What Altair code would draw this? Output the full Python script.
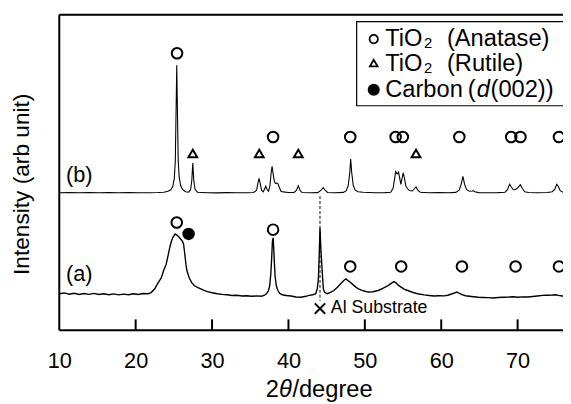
import altair as alt
import pandas as pd

# ---------------- data (2theta in degrees, intensity in arbitrary units) ----------------
b_two_theta = [10.00, 11.32, 12.61, 13.90, 15.19, 16.48, 17.77, 19.06, 20.35, 21.64, 22.93, 23.70,
               24.22, 24.61, 24.86, 25.06, 25.19, 25.29, 25.38, 25.47, 25.57, 25.70, 25.90, 26.15,
               26.54, 26.93, 27.19, 27.35, 27.48, 27.61, 27.77, 28.09, 29.38, 30.67, 31.96, 33.25,
               34.54, 35.45, 35.83, 36.03, 36.15, 36.28, 36.48, 36.70, 36.87, 37.03, 37.19, 37.38,
               37.57, 37.74, 37.86, 37.97, 38.13, 38.28, 38.48, 38.63, 38.80, 39.02, 39.32, 39.96,
               40.74, 41.06, 41.29, 41.51, 41.77, 42.93, 43.83, 44.28, 44.54, 44.80, 45.12, 46.15,
               47.19, 47.57, 47.83, 48.03, 48.15, 48.28, 48.48, 48.74, 49.12, 49.77, 51.32, 52.61,
               53.38, 53.70, 53.90, 54.03, 54.22, 54.41, 54.57, 54.71, 54.87, 55.03, 55.19, 55.38,
               55.61, 55.83, 56.22, 56.48, 56.70, 56.93, 57.25, 58.41, 59.70, 60.99, 61.90, 62.35,
               62.61, 62.84, 63.06, 63.32, 63.70, 64.03, 64.22, 64.41, 64.87, 66.15, 67.45, 68.35,
               68.67, 68.95, 69.19, 69.45, 69.64, 69.96, 70.35, 70.61, 70.93, 71.45, 72.61, 73.90,
               74.54, 74.87, 75.12, 75.32, 75.57, 75.96]
b_intensity = [139.5, 139.7, 139.4, 139.6, 139.4, 139.6, 139.4, 139.6, 139.5, 139.5, 139.7, 140.0,
               141.0, 142.5, 146.0, 154.0, 172.0, 222.0, 268.7, 222.0, 172.0, 155.0, 146.5, 142.5,
               140.5, 140.0, 142.5, 152.0, 169.5, 152.0, 143.0, 140.0, 139.5, 139.3, 139.6, 139.4,
               139.5, 139.7, 142.0, 150.0, 154.0, 150.0, 142.0, 140.3, 143.0, 146.0, 143.0, 141.0,
               146.0, 160.0, 166.3, 160.0, 152.0, 149.0, 149.3, 148.5, 145.0, 141.0, 140.3, 139.7,
               139.7, 142.0, 146.5, 142.0, 139.7, 139.4, 139.6, 142.0, 144.7, 142.0, 139.7, 139.5,
               139.8, 141.5, 147.0, 160.0, 173.7, 160.0, 147.0, 142.0, 140.5, 140.0, 139.5, 139.6,
               140.0, 144.0, 154.0, 161.0, 158.5, 160.5, 154.0, 148.0, 154.0, 159.5, 154.0, 146.0,
               143.5, 141.7, 141.2, 143.5, 145.3, 142.0, 140.0, 139.5, 139.6, 139.5, 139.8, 142.0,
               148.0, 156.0, 148.0, 142.5, 141.0, 141.2, 141.5, 140.5, 139.6, 139.5, 139.6, 140.0,
               142.5, 148.0, 145.0, 142.5, 142.5, 144.0, 147.5, 144.0, 140.5, 139.7, 139.5, 139.7,
               140.5, 143.0, 148.0, 146.0, 141.5, 139.8]

a_two_theta = [10.00, 10.67, 11.32, 11.96, 12.61, 13.25, 13.90, 14.54, 15.19, 15.83, 16.48, 17.12,
               17.77, 18.41, 19.06, 19.70, 20.35, 20.99, 21.64, 22.03, 22.50, 22.93, 23.35, 23.64,
               24.00, 24.22, 24.44, 24.67, 24.86, 25.16, 25.38, 25.60, 25.77, 25.94, 26.15, 26.28,
               26.45, 26.58, 26.71, 27.02, 27.32, 27.66, 28.09, 28.52, 28.95, 29.38, 30.03, 30.67,
               31.32, 31.96, 32.61, 33.25, 33.90, 34.54, 35.19, 35.83, 36.48, 36.87, 37.12, 37.38,
               37.55, 37.70, 37.81, 37.90, 37.99, 38.06, 38.15, 38.25, 38.41, 38.61, 38.84, 39.19,
               39.70, 40.35, 40.99, 41.64, 42.28, 42.71, 43.19, 43.57, 43.77, 43.92, 44.03, 44.13,
               44.25, 44.35, 44.48, 44.57, 44.74, 45.08, 45.51, 45.94, 46.41, 47.02, 47.32, 47.54,
               47.77, 48.09, 48.48, 48.87, 49.16, 49.64, 50.03, 50.45, 51.06, 51.74, 52.35, 53.03,
               53.45, 53.81, 54.09, 54.32, 54.80, 55.19, 55.61, 56.22, 56.90, 57.77, 58.41, 59.06,
               59.70, 60.35, 60.87, 61.25, 61.64, 62.06, 62.35, 62.71, 63.19, 63.70, 64.22, 64.87,
               65.51, 66.15, 66.80, 67.45, 68.09, 68.95, 69.38, 70.03, 70.67, 71.32, 71.96, 72.61,
               73.25, 73.90, 74.54, 74.97, 75.32, 75.83, 75.96]
a_intensity = [37.0, 37.8, 36.5, 37.5, 36.2, 37.2, 36.4, 37.4, 36.2, 37.0, 36.0, 36.8,
               35.8, 36.6, 36.0, 37.0, 36.2, 37.2, 37.0, 38.2, 42.0, 48.0, 53.0, 60.0,
               67.0, 75.0, 83.0, 90.0, 94.0, 97.7, 96.5, 95.0, 93.5, 92.0, 90.0, 87.0,
               76.0, 67.0, 60.3, 53.0, 48.5, 45.3, 43.5, 42.0, 40.3, 39.2, 38.0, 37.0,
               36.4, 36.0, 35.2, 35.5, 34.7, 35.0, 34.4, 34.8, 34.5, 35.5, 37.0, 40.0,
               45.3, 58.0, 74.0, 90.0, 93.7, 85.3, 70.0, 55.0, 45.3, 40.5, 37.5, 36.0,
               35.2, 34.7, 33.7, 33.4, 34.4, 35.3, 36.0, 37.0, 42.0, 52.0, 77.0, 103.7,
               82.0, 68.7, 52.0, 42.0, 38.5, 37.0, 38.5, 40.3, 43.5, 48.7, 51.0, 52.0,
               50.5, 48.7, 46.0, 43.5, 42.0, 40.5, 39.5, 38.7, 39.0, 40.3, 42.5, 45.3,
               47.5, 49.3, 48.0, 46.0, 43.5, 41.5, 40.3, 38.5, 37.0, 35.8, 35.2, 34.7,
               35.0, 34.8, 35.5, 36.5, 37.5, 38.7, 37.5, 36.0, 35.0, 34.5, 34.0, 33.4,
               33.2, 33.0, 32.7, 33.2, 33.4, 33.7, 34.0, 33.5, 33.8, 33.7, 34.2, 34.7,
               35.3, 35.5, 35.7, 36.0, 35.4, 34.7, 34.7]

anatase_b_x = [25.42, 37.99, 48.09, 54.03, 54.97, 62.37, 69.16, 70.37, 75.41]
anatase_b_y = [281.0, 196.0, 196.0, 196.0, 196.0, 196.0, 196.0, 196.0, 196.0]
rutile_b_x = [27.48, 36.18, 41.29, 56.70]
rutile_b_y = [179.3, 179.3, 179.3, 179.3]
anatase_a_x = [25.38, 37.99, 48.09, 54.76, 62.71, 69.73, 75.41]
anatase_a_y = [109.3, 102.0, 64.7, 64.7, 64.7, 64.7, 64.7]
carbon_a_x = [26.93]
carbon_a_y = [97.7]
al_x = [44.13]
al_marker_y = [22.0]
al_line_top = [136.0]
al_line_bottom = [30.0]
al_label = ["Al Substrate"]
curve_labels = ["(b)", "(a)"]
curve_label_x = [10.89, 10.89]
curve_label_y = [150.3, 50.0]

tick_labels = [10, 20, 30, 40, 50, 60, 70]
inner_ticks = [20, 30, 40, 50, 60, 70]

legend_names = ["TiO", "2", "(Anatase)", "TiO", "2", "(Rutile)", "Carbon", "(", "d", "(002))"]

# ---------------- chart ----------------
W, H = 511, 320
FONT = "Liberation Sans"
xs = alt.Scale(domain=[10, 75.94], nice=False, zero=False)
ys = alt.Scale(domain=[0, 320], nice=False, zero=False)
x_axis = alt.Axis(values=tick_labels, ticks=False, tickSize=0, domain=False, grid=False,
                  labelFontSize=22, labelFont=FONT, labelColor="black", labelPadding=38,
                  labelBaseline="alphabetic", title=None, labelFlush=False)


def X(field):
    return alt.X(field, type="quantitative", scale=xs, axis=x_axis)


def Y(field):
    return alt.Y(field, type="quantitative", scale=ys, axis=None)


df_b = pd.DataFrame({"tt": b_two_theta, "I": b_intensity})
df_a = pd.DataFrame({"tt": a_two_theta, "I": a_intensity})

curve_b = alt.Chart(df_b).mark_line(color="black", strokeWidth=1.1, clip=True).encode(x=X("tt"), y=Y("I"))
curve_a = alt.Chart(df_a).mark_line(color="black", strokeWidth=1.4, clip=True).encode(x=X("tt"), y=Y("I"))

circ_b = alt.Chart(pd.DataFrame({"tt": anatase_b_x, "I": anatase_b_y})).mark_point(
    shape="circle", filled=False, color="black", strokeWidth=2, size=115, opacity=1, clip=True
).encode(x=X("tt"), y=Y("I"))
circ_a = alt.Chart(pd.DataFrame({"tt": anatase_a_x, "I": anatase_a_y})).mark_point(
    shape="circle", filled=False, color="black", strokeWidth=2, size=115, opacity=1, clip=True
).encode(x=X("tt"), y=Y("I"))
tri_b = alt.Chart(pd.DataFrame({"tt": rutile_b_x, "I": rutile_b_y})).mark_point(
    shape="triangle-up", filled=False, color="black", strokeWidth=2, size=80, opacity=1
).encode(x=X("tt"), y=Y("I"))
carb = alt.Chart(pd.DataFrame({"tt": carbon_a_x, "I": carbon_a_y})).mark_point(
    shape="circle", filled=True, color="black", size=160, opacity=1
).encode(x=X("tt"), y=Y("I"))

al_df = pd.DataFrame({"tt": al_x, "I": al_marker_y, "top": al_line_top, "bot": al_line_bottom,
                      "lab": al_label})
al_line = alt.Chart(al_df).mark_rule(color="black", strokeWidth=1, strokeDash=[3, 2]).encode(
    x=X("tt"), y=Y("top"), y2="bot")
al_mark = alt.Chart(al_df).mark_point(
    shape="M-1,-1L1,1M-1,1L1,-1", filled=False, color="black", strokeWidth=2, size=110, opacity=1
).encode(x=X("tt"), y=Y("I"))
al_text = alt.Chart(al_df).mark_text(align="left", baseline="middle", dx=11, fontSize=18, font=FONT,
                                     color="black").encode(x=X("tt"), y=Y("I"), text="lab")

lab_df = pd.DataFrame({"tt": curve_label_x, "I": curve_label_y, "lab": curve_labels})
curve_text = alt.Chart(lab_df).mark_text(align="left", baseline="alphabetic", fontSize=22, font=FONT,
                                         color="black").encode(x=X("tt"), y=Y("I"), text="lab")

tick_df = pd.DataFrame({"tt": inner_ticks})
ticks = alt.Chart(tick_df).mark_rule(color="black", strokeWidth=2).encode(
    x=X("tt"), y=alt.value(H), y2=alt.value(H - 11))

one = pd.DataFrame({"k": [0]})
frame_left = alt.Chart(one).mark_rule(color="black", strokeWidth=2).encode(
    x=alt.value(0), y=alt.value(0), y2=alt.value(H))
frame_top = alt.Chart(one).mark_rule(color="black", strokeWidth=2).encode(
    x=alt.value(0), x2=alt.value(W), y=alt.value(0))
frame_bottom = alt.Chart(one).mark_rule(color="black", strokeWidth=2).encode(
    x=alt.value(0), x2=alt.value(W), y=alt.value(H))

legend_box = alt.Chart(one).mark_rect(fill="white", stroke="black", strokeWidth=1.2).encode(
    x=alt.value(301.7), x2=alt.value(540), y=alt.value(7), y2=alt.value(92.3))
leg_circle = alt.Chart(one).mark_point(shape="circle", filled=False, color="black", strokeWidth=1.8,
                                       size=72, opacity=1).encode(x=alt.value(319), y=alt.value(24.7))
leg_tri = alt.Chart(one).mark_point(shape="triangle-up", filled=False, color="black", strokeWidth=1.8,
                                    size=60, opacity=1).encode(x=alt.value(319), y=alt.value(49))
leg_fill = alt.Chart(one).mark_point(shape="circle", filled=True, color="black", size=150,
                                     opacity=1).encode(x=alt.value(319), y=alt.value(76))

legend_layout = [  # (x, y, size, style) for each legend_names item
    (330.7, 31.8, 24, "normal"), (370.0, 34.0, 15, "normal"), (393.3, 31.8, 24, "normal"),
    (330.7, 57.0, 24, "normal"), (370.0, 59.2, 15, "normal"), (393.3, 57.0, 24, "normal"),
    (330.7, 83.0, 24, "normal"), (414.5, 83.0, 24, "normal"), (423.5, 83.0, 24, "italic"),
    (437.5, 83.0, 24, "normal"),
]
legend_texts = []
for name, (lx, ly, fs, st) in zip(legend_names, legend_layout):
    legend_texts.append(
        alt.Chart(one).mark_text(text=name, align="left", baseline="alphabetic", fontSize=fs,
                                 fontStyle=st, font=FONT, color="black")
        .encode(x=alt.value(lx), y=alt.value(ly)))

title_parts = [("2", 209.5, "normal"), ("θ", 223.0, "italic"), ("/degree", 236.5, "normal")]
x_title = []
for t, tx, st in title_parts:
    x_title.append(
        alt.Chart(one).mark_text(text=t, align="left", baseline="alphabetic", fontSize=24,
                                 fontStyle=st, font=FONT, color="black")
        .encode(x=alt.value(tx), y=alt.value(388)))

y_title = alt.Chart(one).mark_text(text="Intensity (arb unit)", align="center", baseline="middle",
                                   angle=270, fontSize=23, font=FONT, color="black").encode(
    x=alt.value(-38), y=alt.value(172))

chart = alt.layer(
    curve_b, curve_a, al_line, circ_b, circ_a, tri_b, carb, al_mark, al_text, curve_text, ticks,
    frame_left, frame_top, frame_bottom, legend_box, leg_circle, leg_tri, leg_fill,
    *legend_texts, *x_title, y_title
).properties(
    width=W, height=H,
    autosize=alt.AutoSizeParams(type="none"),
    padding={"left": 52, "top": 4, "right": 0, "bottom": 72},
).configure_view(stroke=None).configure(font=FONT)

chart.save("out.html", embed_options={"renderer": "svg", "actions": False})
